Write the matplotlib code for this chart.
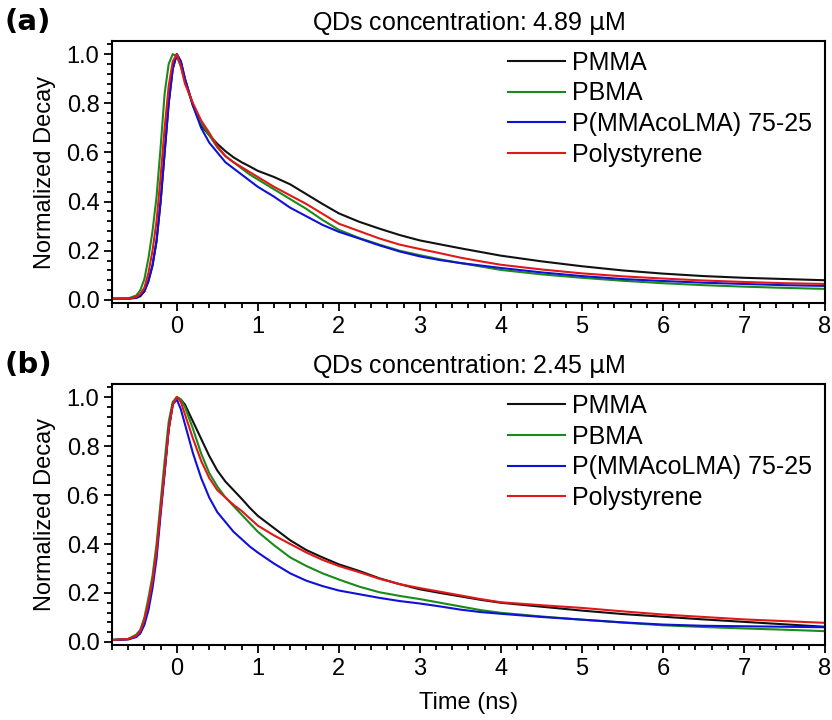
import matplotlib
matplotlib.use('Agg')
import matplotlib.pyplot as plt
from matplotlib.ticker import MultipleLocator

plt.rcParams['font.family'] = ['Liberation Sans', 'DejaVu Sans']

# --- Data ---
time_ns = [-0.8, -0.6, -0.5, -0.45, -0.4, -0.35, -0.3, -0.25, -0.2, -0.15, -0.1, -0.05,
           0.0, 0.05, 0.1, 0.2, 0.3, 0.4, 0.5, 0.6, 0.7, 0.8, 0.9, 1.0,
           1.2, 1.4, 1.6, 1.8, 2.0, 2.25, 2.5, 2.75, 3.0, 3.25, 3.5, 3.75,
           4.0, 4.5, 5.0, 5.5, 6.0, 6.5, 7.0, 7.5, 8.0]

labels = ['PMMA', 'PBMA', 'P(MMAcoLMA) 75-25', 'Polystyrene']
colors = ['#111111', '#1a8a1a', '#1010d8', '#e01818']
titles = ['QDs concentration: 4.89 $\\mathrm{\\mu}$M', 'QDs concentration: 2.45 $\\mathrm{\\mu}$M']
panel_tags = ['(a)', '(b)']

# panel (a) 4.89 uM
a_pmma = [0.005, 0.005, 0.008, 0.015, 0.035, 0.075, 0.14, 0.24, 0.40, 0.60, 0.80, 0.94,
          1.0, 0.97, 0.90, 0.79, 0.71, 0.67, 0.635, 0.605, 0.58, 0.56, 0.543, 0.525,
          0.50, 0.47, 0.43, 0.39, 0.352, 0.318, 0.29, 0.264, 0.242, 0.226, 0.21, 0.195,
          0.18, 0.157, 0.137, 0.12, 0.107, 0.097, 0.09, 0.085, 0.08]
a_pbma = [0.005, 0.006, 0.018, 0.04, 0.085, 0.17, 0.28, 0.42, 0.62, 0.84, 0.96, 1.0,
          0.99, 0.95, 0.89, 0.79, 0.72, 0.67, 0.62, 0.585, 0.56, 0.535, 0.51, 0.49,
          0.45, 0.41, 0.37, 0.325, 0.285, 0.252, 0.225, 0.2, 0.182, 0.165, 0.15, 0.136,
          0.122, 0.104, 0.09, 0.078, 0.068, 0.06, 0.054, 0.049, 0.045]
a_pmmaco = [0.005, 0.005, 0.01, 0.02, 0.035, 0.08, 0.14, 0.24, 0.40, 0.60, 0.80, 0.94,
            1.0, 0.97, 0.90, 0.79, 0.70, 0.64, 0.60, 0.56, 0.535, 0.51, 0.485, 0.46,
            0.42, 0.375, 0.34, 0.305, 0.277, 0.25, 0.222, 0.197, 0.177, 0.162, 0.15, 0.14,
            0.13, 0.112, 0.097, 0.085, 0.077, 0.07, 0.065, 0.06, 0.057]
a_ps = [0.005, 0.005, 0.012, 0.025, 0.05, 0.11, 0.20, 0.32, 0.50, 0.70, 0.87, 0.97,
        1.0, 0.95, 0.88, 0.80, 0.73, 0.68, 0.625, 0.585, 0.56, 0.54, 0.52, 0.50,
        0.46, 0.425, 0.39, 0.35, 0.31, 0.28, 0.25, 0.225, 0.207, 0.19, 0.172, 0.157,
        0.143, 0.124, 0.108, 0.096, 0.087, 0.079, 0.073, 0.068, 0.065]

# panel (b) 2.45 uM
b_pmma = [0.008, 0.012, 0.025, 0.045, 0.09, 0.16, 0.25, 0.37, 0.54, 0.70, 0.87, 0.97,
          1.0, 0.99, 0.97, 0.90, 0.83, 0.76, 0.70, 0.655, 0.62, 0.585, 0.548, 0.515,
          0.465, 0.415, 0.375, 0.345, 0.317, 0.29, 0.26, 0.236, 0.215, 0.2, 0.186, 0.172,
          0.16, 0.144, 0.128, 0.114, 0.103, 0.092, 0.082, 0.072, 0.062]
b_pbma = [0.008, 0.012, 0.03, 0.05, 0.10, 0.18, 0.27, 0.40, 0.57, 0.74, 0.90, 0.98,
          1.0, 0.99, 0.96, 0.87, 0.77, 0.69, 0.635, 0.59, 0.555, 0.52, 0.485, 0.45,
          0.395, 0.345, 0.31, 0.28, 0.255, 0.226, 0.203, 0.188, 0.175, 0.16, 0.145, 0.13,
          0.119, 0.104, 0.091, 0.079, 0.068, 0.061, 0.055, 0.05, 0.044]
b_pmmaco = [0.008, 0.01, 0.02, 0.035, 0.07, 0.13, 0.22, 0.34, 0.52, 0.69, 0.87, 0.97,
            0.99, 0.95, 0.89, 0.77, 0.67, 0.59, 0.53, 0.49, 0.45, 0.42, 0.39, 0.365,
            0.32, 0.28, 0.25, 0.228, 0.21, 0.195, 0.18, 0.167, 0.157, 0.145, 0.132, 0.122,
            0.115, 0.102, 0.091, 0.08, 0.071, 0.066, 0.064, 0.062, 0.06]
b_ps = [0.008, 0.012, 0.025, 0.045, 0.09, 0.16, 0.25, 0.37, 0.54, 0.70, 0.87, 0.97,
        1.0, 0.98, 0.93, 0.83, 0.74, 0.67, 0.62, 0.59, 0.56, 0.535, 0.505, 0.475,
        0.435, 0.40, 0.365, 0.335, 0.31, 0.285, 0.258, 0.236, 0.22, 0.205, 0.19, 0.175,
        0.162, 0.15, 0.139, 0.125, 0.112, 0.102, 0.092, 0.085, 0.078]

panels = [[a_pmma, a_pbma, a_pmmaco, a_ps], [b_pmma, b_pbma, b_pmmaco, b_ps]]

fig = plt.figure(figsize=(8.32, 7.2), dpi=100)
ax_a = fig.add_axes([0.1346, 0.579, 0.857, 0.364])
ax_b = fig.add_axes([0.1346, 0.104, 0.857, 0.3625])
fs = 17
fs_title = 18
fs_leg = 18

for ax, series, title, tag in zip([ax_a, ax_b], panels, titles, panel_tags):
    for y, lab, c in zip(series, labels, colors):
        ax.plot(time_ns, y, color=c, lw=1.5, label=lab)
    ax.set_xlim(-0.8, 8)
    ax.set_ylim(-0.013, 1.053)
    ax.xaxis.set_major_locator(MultipleLocator(1))
    ax.xaxis.set_minor_locator(MultipleLocator(0.2))
    ax.yaxis.set_major_locator(MultipleLocator(0.2))
    ax.yaxis.set_minor_locator(MultipleLocator(0.04))
    ax.yaxis.set_major_formatter(plt.FormatStrFormatter('%.1f'))
    ax.tick_params(which='both', direction='out', top=False, right=False, width=1.3,
                   labelsize=fs, pad=3)
    ax.tick_params(which='major', length=6)
    ax.tick_params(which='minor', length=3.5)
    for s in ax.spines.values():
        s.set_linewidth(1.5)
    ax.set_ylabel('Normalized Decay', fontsize=fs, labelpad=8)
    ax.set_title(title, fontsize=fs_title, pad=8)
    ax.legend(loc='upper left', bbox_to_anchor=(0.555, 0.963), frameon=False,
              fontsize=fs_leg, handlelength=2.3, handletextpad=0.28, labelspacing=0.27,
              borderpad=0, borderaxespad=0)
    pos = ax.get_position()
    fig.text(0.006, pos.y1 + 0.026, tag, fontsize=21, fontweight='bold',
             family='DejaVu Sans', va='center', ha='left')

ax_b.set_xlabel('Time (ns)', fontsize=fs, labelpad=9)

fig.savefig('out.png', dpi=100)
